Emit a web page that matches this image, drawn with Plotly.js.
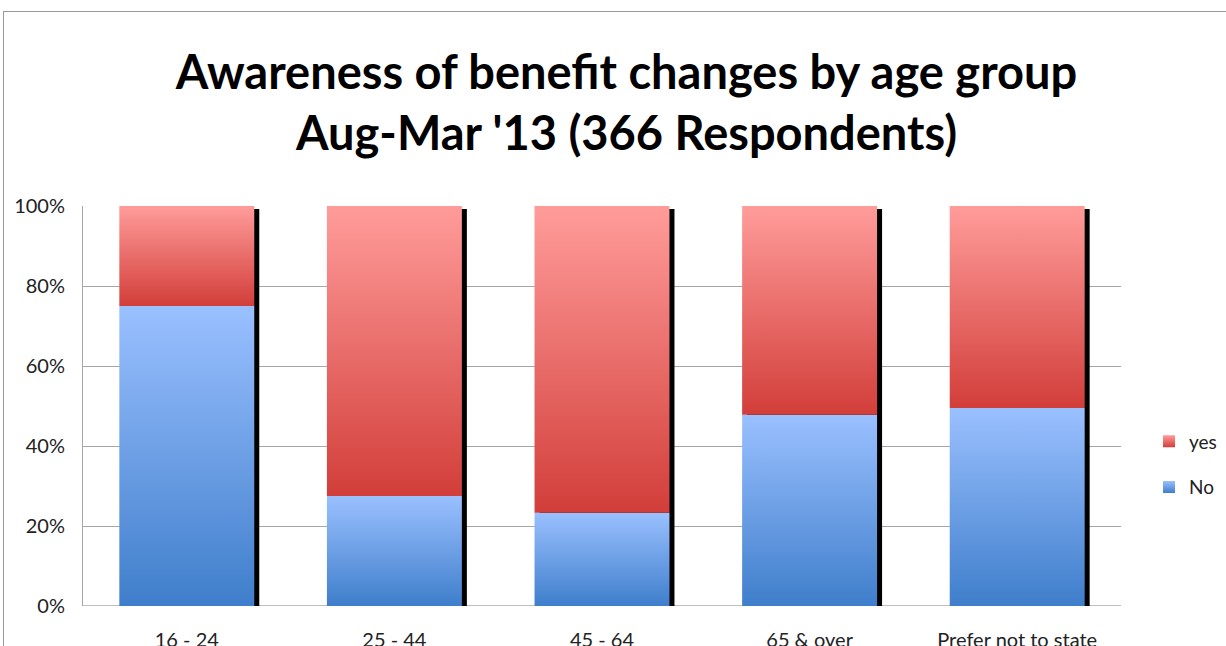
<!DOCTYPE html>
<html>
<head>
<meta charset="utf-8">
<script src="https://cdn.plot.ly/plotly-3.0.1.min.js"></script>
<style>
  html, body { margin: 0; padding: 0; background: #fff; overflow: hidden; }
  #frame { position: absolute; left: 3px; top: 11px; width: 1300px; height: 700px; border: 1px solid #999; box-sizing: border-box; }
  #chart { position: absolute; left: 0; top: 0; width: 1226px; height: 646px; }
</style>
</head>
<body>
<div id="frame"></div>
<div id="chart"></div>
<script>
const categories = ["16 - 24", "25 - 44", "45 - 64", "65 & over", "Prefer not to state"];
const noValues = [75, 27.5, 23.3, 47.8, 49.5];
const yesValues = [25, 72.5, 76.7, 52.2, 50.5];
const yTickVals = [0, 20, 40, 60, 80, 100];
const yTickText = ["0%", "20%", "40%", "60%", "80%", "100%"];

const totals = noValues.map((v, i) => v + yesValues[i]);
const xIdx = categories.map((c, i) => i);
const BW = 0.65;
const shadowShift = 5 / ((1121 - 83) / 5);

const font = "Lato, 'Open Sans', sans-serif";

const traces = [
  {
    type: "bar", name: "shadow", x: xIdx, y: totals, base: 0, yaxis: "y2",
    width: BW, offset: -BW / 2 + shadowShift,
    marker: { color: "#000" }, showlegend: false, hoverinfo: "skip"
  },
  {
    type: "bar", name: "No", x: xIdx, y: noValues, base: 0, yaxis: "y3",
    width: BW, offset: -BW / 2,
    marker: { color: "#6C9BE6" }, legendrank: 2, legendgroup: "gNo"
  },
  {
    type: "bar", name: "yes", x: xIdx, y: yesValues, base: noValues, yaxis: "y3",
    width: BW, offset: -BW / 2,
    marker: { color: "#E87470" }, legendrank: 1, legendgroup: "gYes"
  }
];

const layout = {
  width: 1226, height: 646,
  margin: { l: 83, r: 105, t: 206, b: 40, pad: 0, autoexpand: false },
  paper_bgcolor: "rgba(0,0,0,0)", plot_bgcolor: "rgba(0,0,0,0)",
  barmode: "overlay",
  font: { family: font, color: "#222" },
  title: {
    text: "<b>Awareness of benefit changes by age group<br>Aug-Mar '13 (366 Respondents)</b>",
    font: { family: font, size: 47, color: "#000" },
    x: 0.511, xref: "container", xanchor: "center",
    y: 0.862, yref: "container", yanchor: "middle"
  },
  xaxis: {
    range: [-0.5, 4.5], tickvals: xIdx, ticktext: categories,
    showgrid: false, zeroline: false, showline: false, ticks: "",
    tickfont: { family: font, size: 20, color: "#222" },
    ticklabelstandoff: 20, fixedrange: true
  },
  yaxis: {
    range: [0, 100], tickvals: yTickVals, ticktext: yTickText,
    showgrid: true, gridcolor: "#A6A6A6", gridwidth: 1,
    zeroline: false, showline: true, linecolor: "#A6A6A6", linewidth: 1,
    ticks: "", tickfont: { family: font, size: 20, color: "#222" },
    ticklabelstandoff: 13, fixedrange: true
  },
  yaxis2: { overlaying: "y", range: [0, 100.75], visible: false, fixedrange: true },
  yaxis3: { overlaying: "y", range: [0, 100], visible: false, fixedrange: true },
  shapes: [
    { type: "line", xref: "paper", yref: "y", x0: 0, x1: 1, y0: 0, y1: 0, line: { color: "#BFBFBF", width: 2 }, layer: "below" }
  ],
  legend: {
    x: 1.027, xanchor: "left", y: 0.354, yanchor: "middle",
    traceorder: "grouped", tracegroupgap: 18,
    font: { family: font, size: 19, color: "#222" },
    itemwidth: 30, bgcolor: "rgba(0,0,0,0)"
  },
  showlegend: true
};

Plotly.newPlot("chart", traces, layout, { displayModeBar: false, staticPlot: true }).then(function (gd) {
  const svg = gd.querySelector(".main-svg");
  const ns = "http://www.w3.org/2000/svg";
  const defs = document.createElementNS(ns, "defs");
  function grad(id, top, bottom) {
    const g = document.createElementNS(ns, "linearGradient");
    g.setAttribute("id", id);
    g.setAttribute("x1", "0"); g.setAttribute("y1", "0");
    g.setAttribute("x2", "0"); g.setAttribute("y2", "1");
    [[0, top], [1, bottom]].forEach(function (s) {
      const st = document.createElementNS(ns, "stop");
      st.setAttribute("offset", s[0]);
      st.setAttribute("stop-color", s[1]);
      g.appendChild(st);
    });
    defs.appendChild(g);
  }
  grad("gradNo", "#9AC0FF", "#3F7ECB");
  grad("gradYes", "#FF9C9A", "#D23E3A");
  svg.insertBefore(defs, svg.firstChild);
  const gradFor = { "No": "gradNo", "yes": "gradYes" };
  gd.querySelectorAll(".barlayer .trace").forEach(function (t) {
    const d = t.__data__;
    const name = d && d[0] && d[0].trace ? d[0].trace.name : null;
    if (gradFor[name]) t.querySelectorAll("path").forEach(p => p.style.fill = "url(#" + gradFor[name] + ")");
  });
  gd.querySelectorAll(".legend .traces").forEach(function (t) {
    const txt = t.querySelector("text");
    const id = txt && txt.textContent === "No" ? "gradNo" : "gradYes";
    t.querySelectorAll(".legendpoints path").forEach(p => p.style.fill = "url(#" + id + ")");
  });
});
</script>
</body>
</html>
